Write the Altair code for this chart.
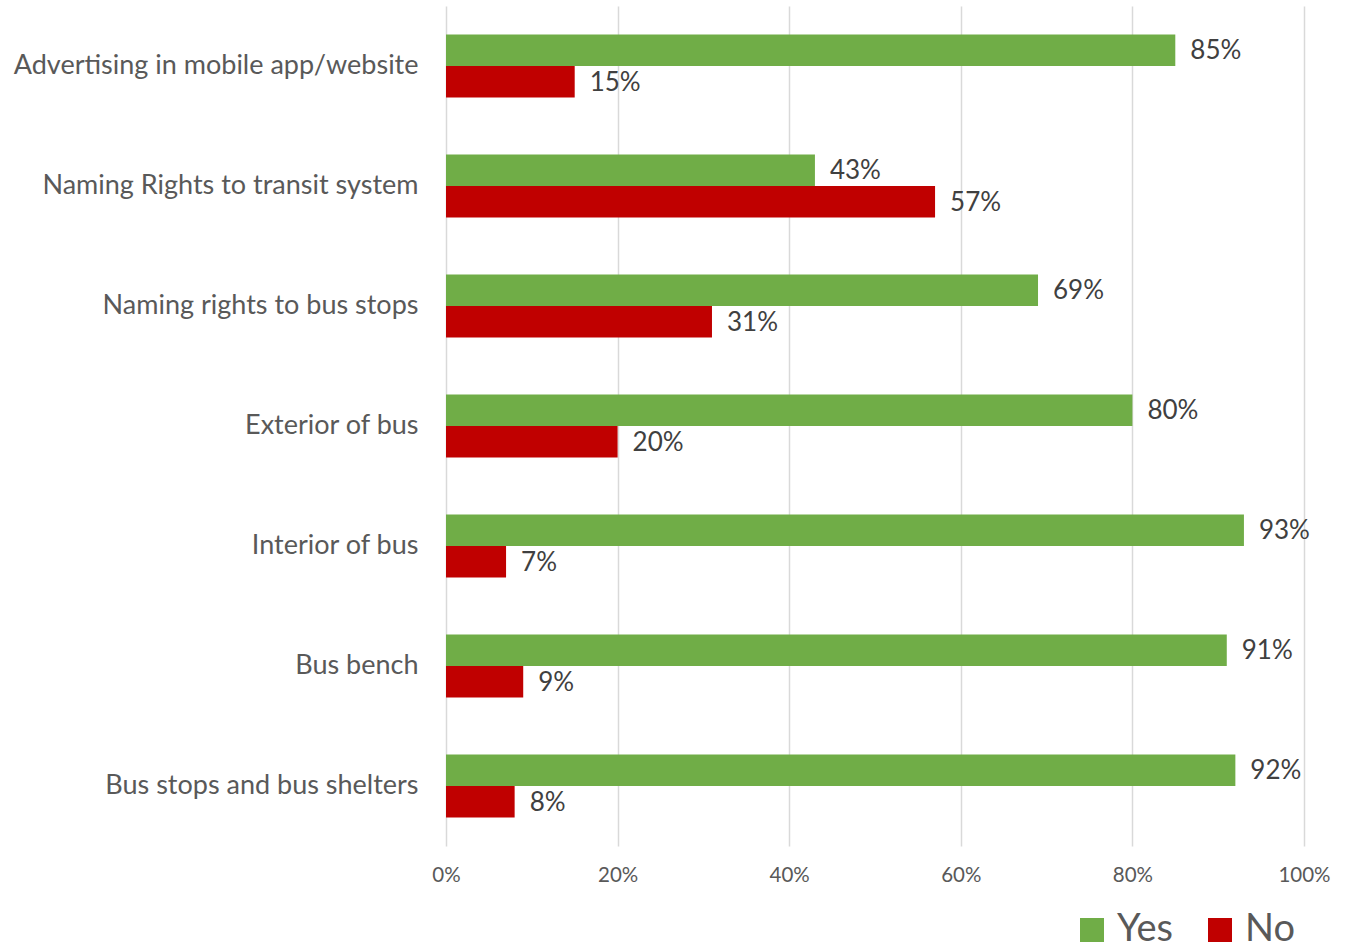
import altair as alt
import pandas as pd

categories = [
    "Advertising in mobile app/website",
    "Naming Rights to transit system",
    "Naming rights to bus stops",
    "Exterior of bus",
    "Interior of bus",
    "Bus bench",
    "Bus stops and bus shelters",
]
yes_values = [85, 43, 69, 80, 93, 91, 92]
no_values = [15, 57, 31, 20, 7, 9, 8]
series = ["Yes", "No"]
colors = ["#70AD47", "#C00000"]

rows = []
for c, y, n in zip(categories, yes_values, no_values):
    rows.append({"cat": c, "series": "Yes", "value": y / 100, "label": f"{y}%"})
    rows.append({"cat": c, "series": "No", "value": n / 100, "label": f"{n}%"})
df = pd.DataFrame(rows)

FONT = "Lato"

y_enc = alt.Y(
    "cat:N",
    sort=categories,
    scale=alt.Scale(paddingInner=0.475, paddingOuter=0.2375),
    axis=alt.Axis(
        title=None, ticks=False, domain=False, labelFontSize=27, labelColor="#595959",
        labelFont=FONT, labelPadding=28, labelLimit=500,
    ),
)
yoff = alt.YOffset("series:N", sort=series)

base = alt.Chart(df).encode(y=y_enc, yOffset=yoff)

bars = base.mark_bar().encode(
    x=alt.X(
        "value:Q",
        scale=alt.Scale(domain=[0, 1], nice=False),
        axis=alt.Axis(
            title=None, format=".0%", values=[0, 0.2, 0.4, 0.6, 0.8, 1.0],
            ticks=False, domain=False, grid=True, gridColor="#D9D9D9", gridWidth=1.5,
            labelFontSize=20.5, labelColor="#595959", labelFont=FONT, labelPadding=19,
            labelFlush=False,
        ),
    ),
    color=alt.Color(
        "series:N",
        sort=series,
        scale=alt.Scale(domain=series, range=colors),
        legend=alt.Legend(
            title=None, orient="none", direction="horizontal", legendX=627, legendY=905,
            symbolType="square", symbolSize=576, symbolStrokeWidth=0, labelFontSize=38,
            labelFont=FONT, labelColor="#595959", columnPadding=27, symbolOffset=0,
            labelOffset=6,
        ),
    ),
)

labels = base.mark_text(
    align="left", baseline="middle", dx=15, dy=1, fontSize=26, font=FONT, color="#404040"
).encode(x="value:Q", text="label:N")

chart = (
    alt.layer(bars, labels)
    .properties(
        width=858,
        height=840,
        autosize=alt.AutoSizeParams(type="none"),
        padding={"left": 446, "top": 6, "right": 42, "bottom": 105},
    )
    .configure_view(stroke=None)
    .configure_bar(stroke=None)
)

chart.save("out.html", embed_options={"renderer": "svg", "actions": False})
